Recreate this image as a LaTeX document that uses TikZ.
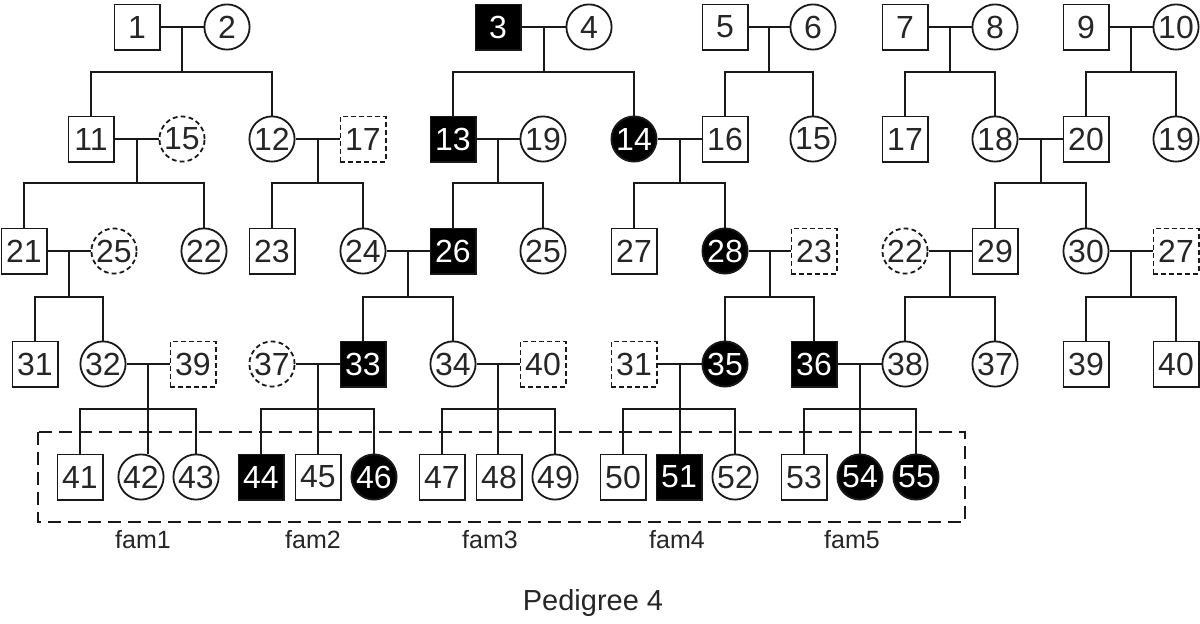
\documentclass[tikz,border=0pt]{standalone}
\usepackage{fontspec}
\setmainfont{Liberation Sans}
\usetikzlibrary{calc}
\newcommand\mate[4]{%
  \draw[link] (#1.east) -- (#2.west);
  \coordinate (#4) at ($(#1.east)!.5!(#2.west)$);
  \draw[link] (#4) -- (#4 |- #3);}
\newcommand\kids[3]{%
  \draw[link] (#1.north) -- (#1.north |- #3) -- (#2.north |- #3) -- (#2.north);}
\begin{document}
\begin{tikzpicture}[x=0.5pt,y=-0.5pt,
  base/.style={draw=black!90, line width=0.9pt, inner sep=0pt, text=black!85,
    font=\fontsize{16}{16}\selectfont},
  male/.style={base, rectangle, minimum width=22.6pt, minimum height=22.6pt},
  female/.style={base, circle, minimum size=22.6pt},
  aff/.style={fill=black, text=white},
  unk/.style={dash pattern=on 2.4pt off 1.6pt},
  link/.style={line width=1pt, draw=black!90},
  famlabel/.style={font=\fontsize{12.5}{12.5}\selectfont, text=black!85},
  title/.style={font=\fontsize{14.5}{14.5}\selectfont, text=black!85}]
\useasboundingbox (0,0) rectangle (1200,623);
\def\Ra{27}\def\Rb{139}\def\Rc{251}\def\Rd{364}\def\Re{477}
\coordinate (s2) at (0,72);
\coordinate (s3) at (0,183);
\coordinate (s4) at (0,297);
\coordinate (s5) at (0,409);
% row 1
\node[male]       (a1)  at (137,\Ra) {1};
\node[female]     (a2)  at (227,\Ra) {2};
\node[male,aff]   (a3)  at (498,\Ra) {3};
\node[female]     (a4)  at (589,\Ra) {4};
\node[male]       (a5)  at (725,\Ra) {5};
\node[female]     (a6)  at (813,\Ra) {6};
\node[male]       (a7)  at (905,\Ra) {7};
\node[female]     (a8)  at (995,\Ra) {8};
\node[male]       (a9)  at (1086,\Ra) {9};
\node[female]     (a10) at (1176,\Ra) {10};
% row 2
\node[male]       (b11) at (91,\Rb) {11};
\node[female,unk] (b15) at (182,\Rb) {15};
\node[female]     (b12) at (272,\Rb) {12};
\node[male,unk]   (b17) at (363,\Rb) {17};
\node[male,aff]   (b13) at (453,\Rb) {13};
\node[female]     (b19) at (543,\Rb) {19};
\node[female,aff] (b14) at (634,\Rb) {14};
\node[male]       (b16) at (725,\Rb) {16};
\node[female]     (b15r) at (813,\Rb) {15};
\node[male]       (b17r) at (905,\Rb) {17};
\node[female]     (b18) at (995,\Rb) {18};
\node[male]       (b20) at (1086,\Rb) {20};
\node[female]     (b19r) at (1176,\Rb) {19};
% row 3
\node[male]       (c21) at (24,\Rc) {21};
\node[female,unk] (c25) at (114,\Rc) {25};
\node[female]     (c22) at (204,\Rc) {22};
\node[male]       (c23) at (272,\Rc) {23};
\node[female]     (c24) at (363,\Rc) {24};
\node[male,aff]   (c26) at (453,\Rc) {26};
\node[female]     (c25r) at (543,\Rc) {25};
\node[male]       (c27) at (634,\Rc) {27};
\node[female,aff] (c28) at (725,\Rc) {28};
\node[male,unk]   (c23d) at (814,\Rc) {23};
\node[female,unk] (c22d) at (905,\Rc) {22};
\node[male]       (c29) at (995,\Rc) {29};
\node[female]     (c30) at (1086,\Rc) {30};
\node[male,unk]   (c27d) at (1176,\Rc) {27};
% row 4
\node[male]       (d31) at (35,\Rd) {31};
\node[female]     (d32) at (103,\Rd) {32};
\node[male,unk]   (d39) at (193,\Rd) {39};
\node[female,unk] (d37) at (272,\Rd) {37};
\node[male,aff]   (d33) at (363,\Rd) {33};
\node[female]     (d34) at (453,\Rd) {34};
\node[male,unk]   (d40) at (543,\Rd) {40};
\node[male,unk]   (d31d) at (634,\Rd) {31};
\node[female,aff] (d35) at (725,\Rd) {35};
\node[male,aff]   (d36) at (814,\Rd) {36};
\node[female]     (d38) at (905,\Rd) {38};
\node[female]     (d37r) at (995,\Rd) {37};
\node[male]       (d39r) at (1086,\Rd) {39};
\node[male]       (d40r) at (1176,\Rd) {40};
% row 5
\node[male]       (e41) at (80,\Re) {41};
\node[female]     (e42) at (141,\Re) {42};
\node[female]     (e43) at (196,\Re) {43};
\node[male,aff]   (e44) at (261,\Re) {44};
\node[male]       (e45) at (318,\Re) {45};
\node[female,aff] (e46) at (374,\Re) {46};
\node[male]       (e47) at (442,\Re) {47};
\node[male]       (e48) at (499,\Re) {48};
\node[female]     (e49) at (555,\Re) {49};
\node[male]       (e50) at (623,\Re) {50};
\node[male,aff]   (e51) at (679,\Re) {51};
\node[female]     (e52) at (735,\Re) {52};
\node[male]       (e53) at (804,\Re) {53};
\node[female,aff] (e54) at (860,\Re) {54};
\node[female,aff] (e55) at (916,\Re) {55};
% generation 1 -> 2
\mate{a1}{a2}{s2}{m12}   \kids{b11}{b12}{s2}
\mate{a3}{a4}{s2}{m34}   \kids{b13}{b14}{s2}
\mate{a5}{a6}{s2}{m56}   \kids{b16}{b15r}{s2}
\mate{a7}{a8}{s2}{m78}   \kids{b17r}{b18}{s2}
\mate{a9}{a10}{s2}{m910} \kids{b20}{b19r}{s2}
% generation 2 -> 3
\mate{b11}{b15}{s3}{m1115} \kids{c21}{c22}{s3}
\mate{b12}{b17}{s3}{m1217} \kids{c23}{c24}{s3}
\mate{b13}{b19}{s3}{m1319} \kids{c26}{c25r}{s3}
\mate{b14}{b16}{s3}{m1416} \kids{c27}{c28}{s3}
\mate{b18}{b20}{s3}{m1820} \kids{c29}{c30}{s3}
% generation 3 -> 4
\mate{c21}{c25}{s4}{m2125}  \kids{d31}{d32}{s4}
\mate{c24}{c26}{s4}{m2426}  \kids{d33}{d34}{s4}
\mate{c28}{c23d}{s4}{m2823} \kids{d35}{d36}{s4}
\mate{c22d}{c29}{s4}{m2229} \kids{d38}{d37r}{s4}
\mate{c30}{c27d}{s4}{m3027} \kids{d39r}{d40r}{s4}
% generation 4 -> 5
\mate{d32}{d39}{s5}{m3239}  \kids{e41}{e43}{s5}
\draw[link] (m3239 |- s5) -- (m3239 |- e42.north);
\mate{d37}{d33}{s5}{m3733}  \kids{e44}{e46}{s5}
\draw[link] (m3733 |- s5) -- (m3733 |- e45.north);
\mate{d34}{d40}{s5}{m3440}  \kids{e47}{e49}{s5}
\draw[link] (m3440 |- s5) -- (m3440 |- e48.north);
\mate{d31d}{d35}{s5}{m3135} \kids{e50}{e52}{s5}
\draw[link] (m3135 |- s5) -- (m3135 |- e51.north);
\mate{d36}{d38}{s5}{m3638}  \kids{e53}{e55}{s5}
\draw[link] (m3638 |- s5) -- (m3638 |- e54.north);
% dashed frame
\draw[line width=0.9pt, draw=black!90, dash pattern=on 6.5pt off 3.5pt] (38,432) rectangle (965,522);
% labels
\node[famlabel] (f1) at (143,540) {fam1};
\node[famlabel] (f2) at (313,540) {fam2};
\node[famlabel] (f3) at (490,540) {fam3};
\node[famlabel] (f4) at (677,540) {fam4};
\node[famlabel] (f5) at (852,540) {fam5};
\node[title] (t) at (593,603) {Pedigree 4};
\end{tikzpicture}
\end{document}
